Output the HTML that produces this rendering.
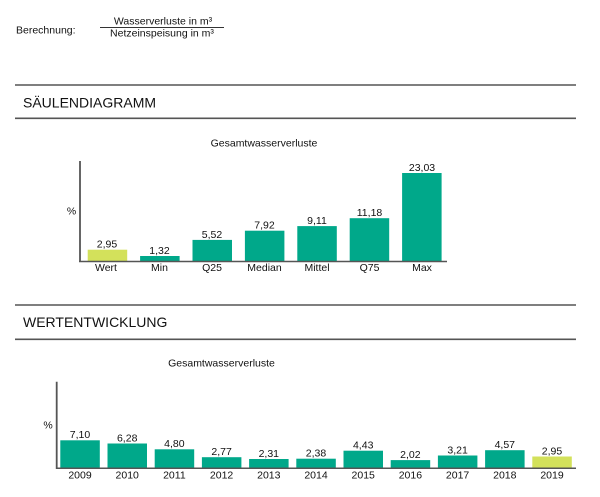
<!DOCTYPE html>
<html>
<head>
<meta charset="utf-8">
<style>
  html,body{margin:0;padding:0;background:#fff;}
  body{width:600px;height:497px;overflow:hidden;}
  svg{display:block;}
  text{font-family:"Liberation Sans",Arial,sans-serif;fill:#111;}
</style>
</head>
<body>
<svg width="600" height="497" viewBox="0 0 600 497" xmlns="http://www.w3.org/2000/svg">
  <!-- Berechnung -->
  <text x="16" y="33.5" font-size="10.5">Berechnung:</text>
  <text x="163" y="24.3" font-size="10.5" text-anchor="middle">Wasserverluste in m³</text>
  <line x1="100" y1="27.5" x2="224" y2="27.5" stroke="#333" stroke-width="1"/>
  <text x="162" y="36.3" font-size="10.5" text-anchor="middle">Netzeinspeisung in m³</text>

  <!-- Section 1 header -->
  <line x1="15" y1="85" x2="576" y2="85" stroke="#555" stroke-width="1.6"/>
  <text x="23" y="107.5" font-size="14">SÄULENDIAGRAMM</text>
  <line x1="15" y1="118.3" x2="576" y2="118.3" stroke="#555" stroke-width="1.6"/>

  <!-- Chart 1 -->
  <text x="264" y="146.7" font-size="10.5" text-anchor="middle">Gesamtwasserverluste</text>
  <text x="71.5" y="214.3" font-size="10.5" text-anchor="middle">%</text>

  <g>
    <rect x="87.7" y="249.7" width="39.5" height="11.3" fill="#d3e15b"/>
    <rect x="140.1" y="256" width="39.5" height="5" fill="#00a88a"/>
    <rect x="192.5" y="239.9" width="39.5" height="21.1" fill="#00a88a"/>
    <rect x="244.9" y="230.7" width="39.5" height="30.3" fill="#00a88a"/>
    <rect x="297.3" y="226.1" width="39.5" height="34.9" fill="#00a88a"/>
    <rect x="349.7" y="218.2" width="39.5" height="42.8" fill="#00a88a"/>
    <rect x="402.1" y="173" width="39.5" height="88" fill="#00a88a"/>
  </g>
  <line x1="80" y1="161" x2="80" y2="262" stroke="#555" stroke-width="1.8"/>
  <line x1="79" y1="261.5" x2="447" y2="261.5" stroke="#555" stroke-width="1.5"/>

  <g font-size="10.5" text-anchor="middle">
    <text x="107" y="247.5">2,95</text>
    <text x="159.5" y="254">1,32</text>
    <text x="212" y="237.8">5,52</text>
    <text x="264.5" y="228.6">7,92</text>
    <text x="317" y="224">9,11</text>
    <text x="369.5" y="216.1">11,18</text>
    <text x="422" y="170.9">23,03</text>

    <text x="106" y="270.8">Wert</text>
    <text x="159.5" y="270.8">Min</text>
    <text x="212" y="270.8">Q25</text>
    <text x="264.5" y="270.8">Median</text>
    <text x="317" y="270.8">Mittel</text>
    <text x="369.5" y="270.8">Q75</text>
    <text x="422" y="270.8">Max</text>
  </g>

  <!-- Section 2 header -->
  <line x1="15" y1="305" x2="576" y2="305" stroke="#555" stroke-width="1.6"/>
  <text x="23" y="327" font-size="14">WERTENTWICKLUNG</text>
  <line x1="15" y1="339.3" x2="576" y2="339.3" stroke="#555" stroke-width="1.6"/>

  <!-- Chart 2 -->
  <text x="221.5" y="366.7" font-size="10.5" text-anchor="middle">Gesamtwasserverluste</text>
  <text x="48" y="428.3" font-size="10.5" text-anchor="middle">%</text>

  <g fill="#00a88a">
    <rect x="60.3" y="440.3" width="39.5" height="27.7"/>
    <rect x="107.5" y="443.5" width="39.5" height="24.5"/>
    <rect x="154.7" y="449.3" width="39.5" height="18.7"/>
    <rect x="201.9" y="457.2" width="39.5" height="10.8"/>
    <rect x="249.1" y="459" width="39.5" height="9"/>
    <rect x="296.3" y="458.7" width="39.5" height="9.3"/>
    <rect x="343.5" y="450.7" width="39.5" height="17.3"/>
    <rect x="390.7" y="460.1" width="39.5" height="7.9"/>
    <rect x="437.9" y="455.5" width="39.5" height="12.5"/>
    <rect x="485.1" y="450.2" width="39.5" height="17.8"/>
    <rect x="532.3" y="456.5" width="39.5" height="11.5" fill="#d3e15b"/>
  </g>
  <line x1="56.7" y1="381.7" x2="56.7" y2="469" stroke="#555" stroke-width="1.8"/>
  <line x1="56" y1="468.3" x2="576" y2="468.3" stroke="#555" stroke-width="1.5"/>

  <g font-size="10.5" text-anchor="middle">
    <text x="80" y="438.2">7,10</text>
    <text x="127.2" y="441.4">6,28</text>
    <text x="174.4" y="447.2">4,80</text>
    <text x="221.6" y="455.1">2,77</text>
    <text x="268.8" y="456.9">2,31</text>
    <text x="316" y="456.6">2,38</text>
    <text x="363.2" y="448.6">4,43</text>
    <text x="410.4" y="458">2,02</text>
    <text x="457.6" y="453.4">3,21</text>
    <text x="504.8" y="448.1">4,57</text>
    <text x="552" y="454.4">2,95</text>

    <text x="80" y="478.5">2009</text>
    <text x="127.2" y="478.5">2010</text>
    <text x="174.4" y="478.5">2011</text>
    <text x="221.6" y="478.5">2012</text>
    <text x="268.8" y="478.5">2013</text>
    <text x="316" y="478.5">2014</text>
    <text x="363.2" y="478.5">2015</text>
    <text x="410.4" y="478.5">2016</text>
    <text x="457.6" y="478.5">2017</text>
    <text x="504.8" y="478.5">2018</text>
    <text x="552" y="478.5">2019</text>
  </g>
</svg>
</body>
</html>
